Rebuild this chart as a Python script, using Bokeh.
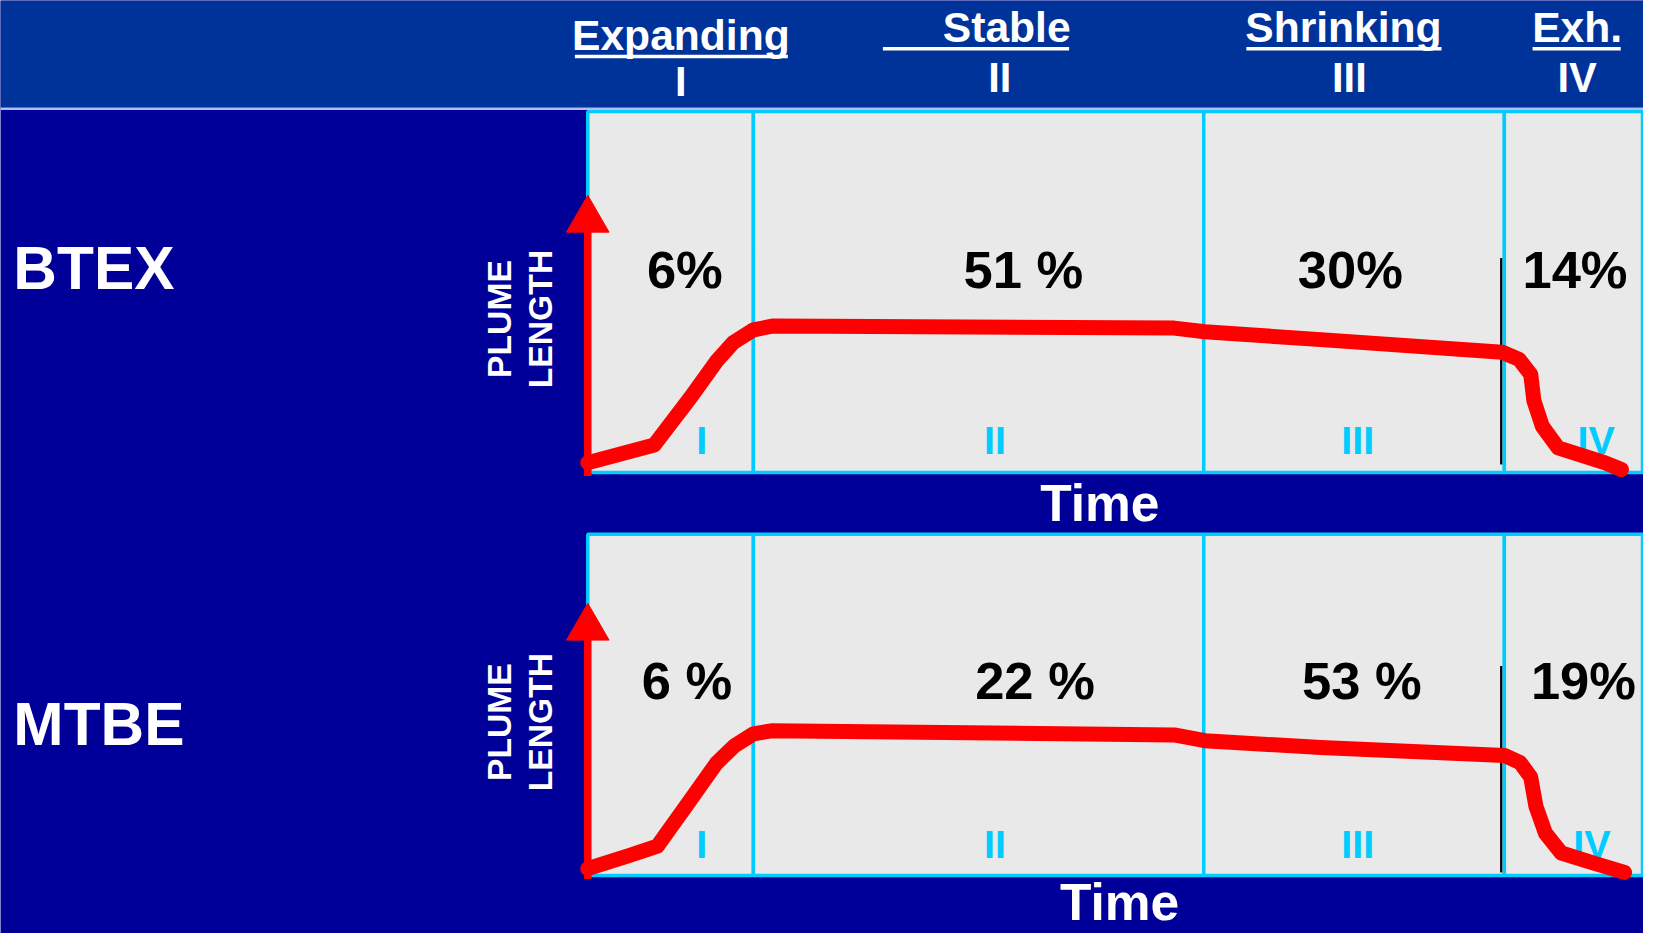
from bokeh.plotting import figure
from bokeh.models import Range1d, BoxAnnotation, Span
from bokeh.core.properties import value
from bokeh.embed import file_html
from bokeh.resources import INLINE

# ---------------- data ----------------
phase_names = ["Expanding", "Stable", "Shrinking", "Exh."]
phase_numerals = ["I", "II", "III", "IV"]
phase_bounds = [0, 15.7, 58.4, 86.9, 100]          # time (% of panel)
compounds = ["BTEX", "MTBE"]
btex_share = ["6%", "51 %", "30%", "14%"]
mtbe_share = ["6 %", "22 %", "53 %", "19%"]

btex_time = [0.0, 6.3, 9.8, 12.2, 13.8, 15.7, 17.6, 55.6, 58.5, 69.5, 86.7,
             88.3, 89.4, 89.7, 90.5, 92.0, 96.4, 98.0]
btex_length = [2.7, 7.6, 21.0, 30.8, 36.0, 39.5, 40.6, 40.0, 39.0, 36.8, 33.3,
               31.3, 27.2, 19.9, 12.8, 6.8, 2.7, 0.8]

mtbe_time = [0.0, 3.9, 6.6, 9.6, 12.2, 13.9, 15.7, 17.4, 55.6, 58.5, 69.5, 86.9,
             88.4, 89.4, 89.9, 90.8, 92.3, 95.3, 96.8, 98.3]
mtbe_length = [2.0, 5.8, 8.6, 21.6, 32.9, 38.0, 41.5, 42.4, 41.2, 39.5, 37.5, 35.2,
               33.1, 28.8, 20.2, 12.4, 6.6, 3.7, 2.3, 0.9]

axis_len = [70.0, 72.6]            # plume-length axis arrow (panel units)
marker_time = [86.6, 86.6]         # thin black line near end of phase III
marker_low = [2.2, 0.9]
marker_high = [59.4, 61.4]

# ---------------- layout / style ----------------
W, H = 1659, 949
PW, PH = 1643, 933
S = PW / W
HEADER_BG = "#003399"
BODY_BG = "#000099"
PANEL_BG = "#E9E9E9"
CYAN = "#00CCFF"
RED = "#FF0000"
FONT = value("Liberation Sans")

def px(n):
    return f"{n * S:.1f}px"

p = figure(width=PW, height=PH, x_range=Range1d(0, W), y_range=Range1d(H, 0),
           output_backend="svg", toolbar_location=None, min_border=0,
           x_axis_location=None, y_axis_location=None,
           background_fill_color=BODY_BG, border_fill_color=BODY_BG,
           outline_line_color=None)
p.grid.visible = False

# header band
p.add_layout(BoxAnnotation(top=0, bottom=109, left=0, right=W,
                           fill_color=HEADER_BG, fill_alpha=1, line_color=None, level="underlay"))
p.add_layout(Span(location=110, dimension="width", line_color="#B4BCF2", line_width=2.5))

hdr_x = [687, 1016, 1356, 1592]
hdr_y = [35, 27, 27, 27]
num_x = [687, 1009, 1362, 1592]
num_y = [82, 78, 78, 78]
ul_x0 = [580, 891, 1258, 1547]
ul_x1 = [795, 1079, 1455, 1636]
ul_y = [57, 49, 49, 49]

p.text(x=hdr_x, y=hdr_y, text=phase_names, text_align="center", text_baseline="middle",
       text_font=FONT, text_font_style="bold", text_font_size=px(43), text_color="white")
p.text(x=num_x, y=num_y, text=phase_numerals, text_align="center", text_baseline="middle",
       text_font=FONT, text_font_style="bold", text_font_size=px(42), text_color="white")
p.segment(x0=ul_x0, y0=ul_y, x1=ul_x1, y1=ul_y, line_color="white", line_width=3.5)

# left labels
p.text(x=[13, 13], y=[272, 736], text=compounds, text_align="left", text_baseline="middle",
       text_font=FONT, text_font_style="bold", text_font_size=px(61), text_color="white")

# panels
panel_targets = [(480, 113), (890, 543)]
share_lists = [btex_share, mtbe_share]
curves = [(btex_time, btex_length), (mtbe_time, mtbe_length)]
share_x = [[9.2, 41.3, 72.3, 93.6], [9.4, 42.4, 73.4, 94.4]]
share_y = [56.3, 57.3]
roman_x = [[10.8, 38.6, 73.0, 95.6], [10.8, 38.6, 73.0, 95.2]]
roman_y = [9.0, 9.2]
time_label = [(1110, 511), (1130, 917)]
plume_y = [324, 734]

for i in range(2):
    yb, yt = panel_targets[i]
    sub = p.subplot(x_source=Range1d(0, 100), y_source=Range1d(0, 100),
                    x_target=Range1d(593, 1658), y_target=Range1d(yb, yt))
    sub.quad(left=phase_bounds[:-1], right=phase_bounds[1:], bottom=0, top=100,
             fill_color=PANEL_BG, line_color=CYAN, line_width=3.5)
    sub.text(x=share_x[i], y=[share_y[i]] * 4, text=share_lists[i], text_align="center",
             text_baseline="middle", text_font=FONT, text_font_style="bold",
             text_font_size=px(53), text_color="black")
    sub.text(x=roman_x[i], y=[roman_y[i]] * 4, text=phase_numerals, text_align="center",
             text_baseline="middle", text_font=FONT, text_font_style="bold",
             text_font_size=px(40), text_color=CYAN)
    sub.segment(x0=[marker_time[i]], y0=[marker_low[i]], x1=[marker_time[i]], y1=[marker_high[i]],
                line_color="black", line_width=2.2)
    sub.segment(x0=[0], y0=[-1], x1=[0], y1=[axis_len[i]], line_color=RED, line_width=7.5)
    sub.scatter(x=[0], y=[axis_len[i]], marker="triangle", size=43 * S,
                fill_color=RED, line_color=RED)
    t, L = curves[i]
    sub.line(x=t, y=L, line_color=RED, line_width=15, line_join="round", line_cap="round")

    p.text(x=[time_label[i][0]], y=[time_label[i][1]], text=["Time"], text_align="center",
           text_baseline="middle", text_font=FONT, text_font_style="bold",
           text_font_size=px(52), text_color="white")
    p.text(x=[503, 545], y=[plume_y[i]] * 2, text=["PLUME", "LENGTH"], angle=1.5708,
           text_align="center", text_baseline="middle", text_font=FONT,
           text_font_style="bold", text_font_size=px(34), text_color="white")

open("out.html", "w").write(file_html(p, INLINE))
